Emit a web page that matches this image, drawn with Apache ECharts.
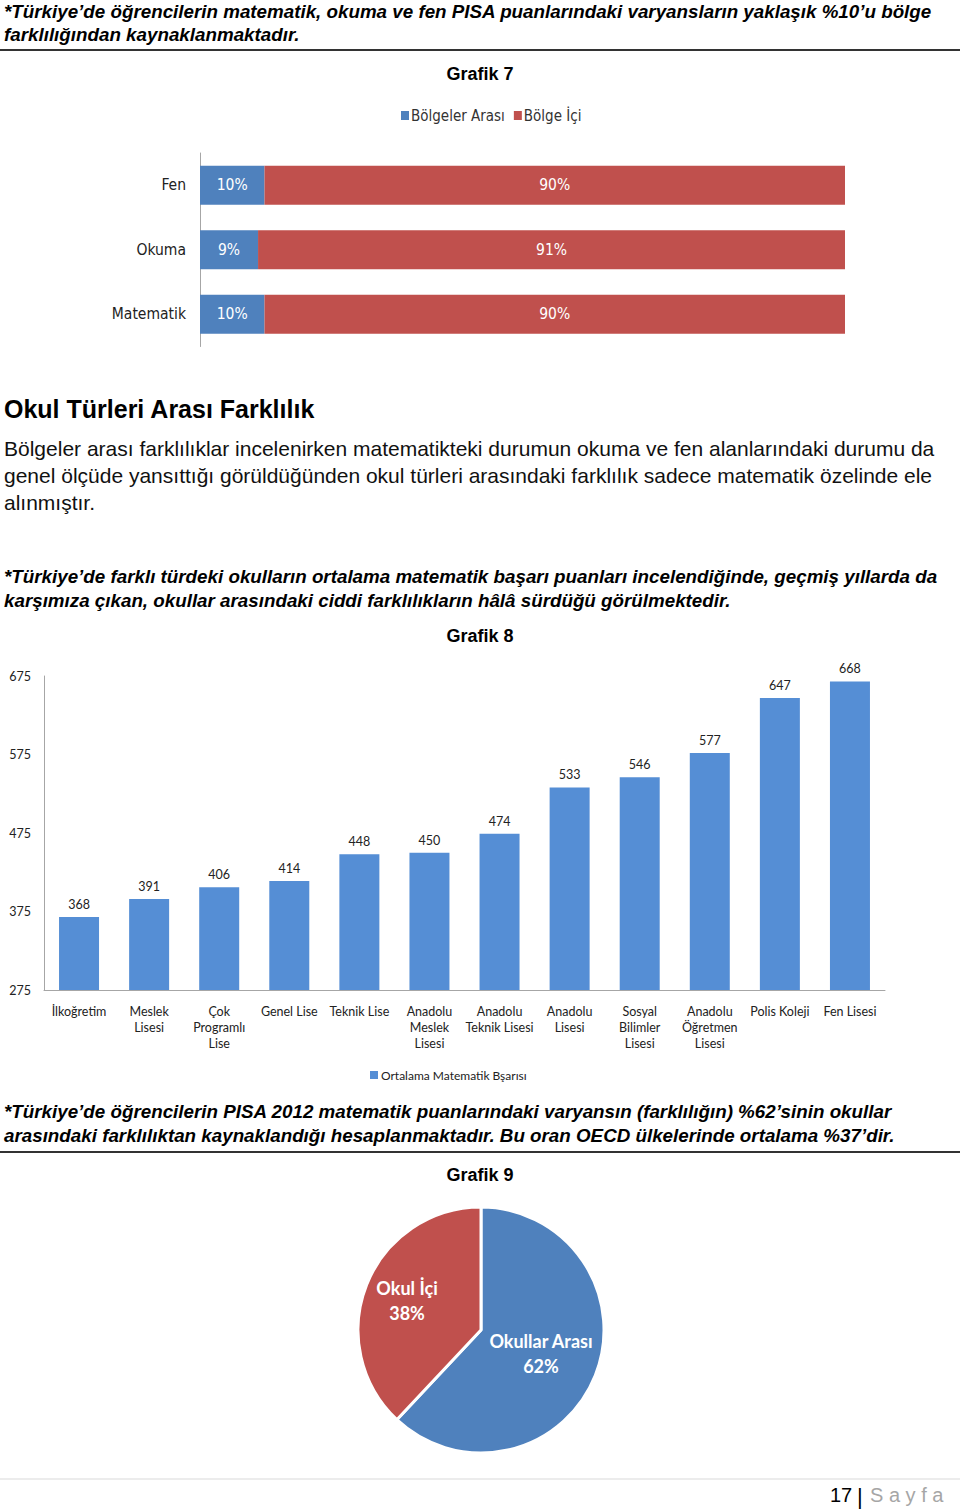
<!DOCTYPE html>
<html><head><meta charset="utf-8">
<script src="https://cdn.jsdelivr.net/npm/echarts@6/dist/echarts.min.js"></script>
<style>html,body{margin:0;padding:0;background:#fff}#c{width:960px;height:1509px}</style>
</head><body><div id="c"></div>
<script>
// ---- Grafik 7 ----
const regionCats = ['Matematik', 'Okuma', 'Fen'];
const betweenRegions = [10, 9, 10];
const withinRegion = [90, 91, 90];
const regionSeriesNames = ['Bölgeler Arası', 'Bölge İçi'];
// ---- Grafik 8 ----
const schoolTypes = ['İlkoğretim', 'Meslek\nLisesi', 'Çok\nProgramlı\nLise', 'Genel Lise', 'Teknik Lise',
  'Anadolu\nMeslek\nLisesi', 'Anadolu\nTeknik Lisesi', 'Anadolu\nLisesi', 'Sosyal\nBilimler\nLisesi',
  'Anadolu\nÖğretmen\nLisesi', 'Polis Koleji', 'Fen Lisesi'];
const mathScores = [368, 391, 406, 414, 448, 450, 474, 533, 546, 577, 647, 668];
const scoreTicks = [275, 375, 475, 575, 675];
const mathSeriesName = 'Ortalama Matematik Bşarısı';
// ---- Grafik 9 ----
const pieNames = ['Okullar Arası', 'Okul İçi'];
const pieValues = [62, 38];

const ARIAL = '"Liberation Sans", Arial, sans-serif';
const NARROW = '"Liberation Sans Narrow", "DejaVu Sans Condensed", "Roboto Condensed", sans-serif';
const CAL = 'Lato, "Open Sans", sans-serif';
const BLUE = '#4f81bd', RED = '#c0504d', BAR = '#558ed5';
const BI = 'italic bold 18.8px ' + ARIAL;

function txt(x, y, text, font, fill, align) {
  return { type: 'text', x: x, y: y, silent: true,
    style: { text: text, font: font, fill: fill || '#000', textAlign: align || 'left', textVerticalAlign: 'middle' } };
}

const chart = echarts.init(document.getElementById('c'), null, { renderer: 'svg' });
chart.setOption({
  animation: false,
  backgroundColor: '#fff',
  graphic: [
    txt(4, 11, '*Türkiye’de öğrencilerin matematik, okuma ve fen PISA puanlarındaki varyansların yaklaşık %10’u bölge', BI),
    txt(4, 34, 'farklılığından kaynaklanmaktadır.', BI),
    { type: 'line', silent: true, shape: { x1: 0, y1: 50, x2: 960, y2: 50 }, style: { stroke: '#333', lineWidth: 2 } },
    txt(480, 74, 'Grafik 7', 'bold 18px ' + ARIAL, '#000', 'center'),
    txt(4, 409, 'Okul Türleri Arası Farklılık', 'bold 25px ' + ARIAL),
    txt(4, 448, 'Bölgeler arası farklılıklar incelenirken matematikteki durumun okuma ve fen alanlarındaki durumu da', '21px ' + ARIAL, '#111'),
    txt(4, 475, 'genel ölçüde yansıttığı görüldüğünden okul türleri arasındaki farklılık sadece matematik özelinde ele', '21px ' + ARIAL, '#111'),
    txt(4, 502, 'alınmıştır.', '21px ' + ARIAL, '#111'),
    txt(4, 576, '*Türkiye’de farklı türdeki okulların ortalama matematik başarı puanları incelendiğinde, geçmiş yıllarda da', BI),
    txt(4, 600, 'karşımıza çıkan, okullar arasındaki ciddi farklılıkların hâlâ sürdüğü görülmektedir.', BI),
    txt(480, 636, 'Grafik 8', 'bold 18px ' + ARIAL, '#000', 'center'),
    txt(4, 1111, '*Türkiye’de öğrencilerin PISA 2012 matematik puanlarındaki varyansın (farklılığın) %62’sinin okullar', BI),
    txt(4, 1135, 'arasındaki farklılıktan kaynaklandığı hesaplanmaktadır. Bu oran OECD ülkelerinde ortalama %37’dir.', BI),
    { type: 'line', silent: true, shape: { x1: 0, y1: 1152, x2: 960, y2: 1152 }, style: { stroke: '#333', lineWidth: 2 } },
    txt(480, 1175, 'Grafik 9', 'bold 18px ' + ARIAL, '#000', 'center'),
    { type: 'line', silent: true, shape: { x1: 0, y1: 1479, x2: 960, y2: 1479 }, style: { stroke: '#d9d9d9', lineWidth: 1 } },
    txt(830, 1495, '17', '20px ' + ARIAL, '#000'),
    txt(857, 1496, '|', '22px ' + ARIAL, '#000'),
    txt(870, 1495, 'S a y f a', '20px ' + ARIAL, '#a6a6a6')
  ],
  legend: [
    { data: regionSeriesNames, left: 396, top: 103, itemWidth: 8, itemHeight: 9, itemGap: 9, icon: 'rect',
      textStyle: { fontFamily: NARROW, fontSize: 15, color: '#333', padding: [0, 0, 0, -3] } },
    { data: [mathSeriesName], left: 365, top: 1064, itemWidth: 8, itemHeight: 8, itemGap: 5, icon: 'rect',
      textStyle: { fontFamily: CAL, fontSize: 12, color: '#222', padding: [0, 0, 0, -2] } }
  ],
  grid: [
    { left: 200, width: 645, top: 153, height: 193.5 },
    { left: 44, width: 841, top: 676, height: 314 }
  ],
  xAxis: [
    { gridIndex: 0, type: 'value', min: 0, max: 100, show: false },
    { gridIndex: 1, type: 'category', data: schoolTypes,
      axisLine: { lineStyle: { color: '#a6a6a6', width: 1 } }, axisTick: { show: false },
      axisLabel: { interval: 0, margin: 13, fontFamily: CAL, fontSize: 12.5, lineHeight: 16, color: '#222' } }
  ],
  yAxis: [
    { gridIndex: 0, type: 'category', data: regionCats,
      axisLine: { lineStyle: { color: '#a6a6a6' } }, axisTick: { show: false },
      axisLabel: { margin: 14, fontFamily: NARROW, fontSize: 15.5, color: '#222' } },
    { gridIndex: 1, type: 'value', min: 275, max: 675,
      axisLine: { show: true, lineStyle: { color: '#a6a6a6' } }, axisTick: { show: false }, splitLine: { show: false },
      axisLabel: { customValues: scoreTicks, margin: 13, fontFamily: CAL, fontSize: 12.5, color: '#222' } }
  ],
  series: [
    { name: regionSeriesNames[0], type: 'bar', stack: 'r', xAxisIndex: 0, yAxisIndex: 0, data: betweenRegions,
      barWidth: 39, itemStyle: { color: BLUE },
      label: { show: true, position: 'inside', formatter: '{c}%', color: '#fff', fontFamily: NARROW, fontSize: 15.5, fontWeight: 'normal' } },
    { name: regionSeriesNames[1], type: 'bar', stack: 'r', xAxisIndex: 0, yAxisIndex: 0, data: withinRegion,
      barWidth: 39, itemStyle: { color: RED },
      label: { show: true, position: 'inside', formatter: '{c}%', color: '#fff', fontFamily: NARROW, fontSize: 15.5, fontWeight: 'normal' } },
    { name: mathSeriesName, type: 'bar', xAxisIndex: 1, yAxisIndex: 1, data: mathScores,
      barWidth: 40, itemStyle: { color: BAR },
      label: { show: true, position: 'top', distance: 6, fontFamily: CAL, fontSize: 12.5, color: '#222' } },
    { type: 'pie', center: [481, 1330], radius: 123, startAngle: 90, clockwise: true,
      data: pieNames.map((n, i) => ({ name: n, value: pieValues[i],
        itemStyle: { color: i === 0 ? BLUE : RED },
        label: i === 1 ? { offset: [-14, -6] } : {} })),
      itemStyle: { borderColor: '#fff', borderWidth: 3 },
      label: { show: true, position: 'inside', formatter: '{b}\n{c}%', color: '#fff', fontFamily: CAL,
        fontSize: 18, fontWeight: 'bold', lineHeight: 25 },
      labelLine: { show: false } }
  ]
});
</script>
</body></html>
